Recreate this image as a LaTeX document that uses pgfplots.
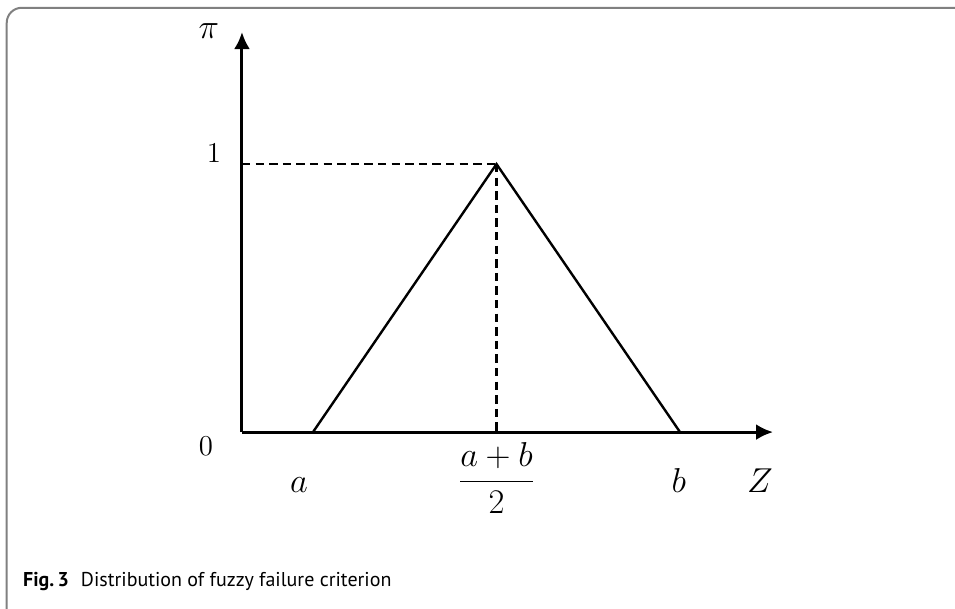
\documentclass[border=0pt]{standalone}
\usepackage{pgfplots}
\pgfplotsset{compat=1.18}
\usepackage{fontspec}
\newfontfamily\capfont{PT Sans}
\usetikzlibrary{arrows.meta}
\definecolor{framegray}{HTML}{808080}
\begin{document}
\begin{tikzpicture}
\begin{axis}[
  scale only axis,
  width=265.5pt, height=200pt,
  xmin=0.613, xmax=3.507, ymin=0, ymax=1.4925,
  axis lines=left,
  axis line style={line width=1.5pt, -{Latex[length=8.5pt,width=8pt]}},
  xtick=\empty, ytick=\empty,
  clip=false,
]
% frame
\draw[framegray, line width=1pt, rounded corners=7.5pt]
  (axis cs:4.6,1.583) -- (axis cs:-0.669,1.583) -- (axis cs:-0.669,-0.7);
% triangle
\addplot[black, line width=1.2pt, line join=miter] coordinates {(1,0) (2,1) (3,0)};
% dashed guides
\addplot[black, line width=1.2pt, dash pattern=on 4.2pt off 2.6pt] coordinates {(0.613,1) (2,1)};
\addplot[black, line width=1.2pt, dash pattern=on 4.2pt off 2.6pt] coordinates {(2,1) (2,0)};
% labels
\node[font=\fontsize{17}{20}\selectfont] at (axis cs:0.433,1.496) {$\pi$};
\node[font=\fontsize{14.5}{18}\selectfont] at (axis cs:0.460,1.041) {$1$};
\node[font=\fontsize{14.5}{18}\selectfont] at (axis cs:0.417,-0.052) {$0$};
\node[font=\fontsize{17}{20}\selectfont, anchor=base] at (axis cs:0.924,-0.224) {$a$};
\node[font=\fontsize{17}{20}\selectfont, anchor=base] at (axis cs:2.994,-0.224) {$b$};
\node[font=\fontsize{16}{20}\selectfont, anchor=base] at (axis cs:3.436,-0.224) {$Z$};
\node[font=\fontsize{16}{20}\selectfont] at (axis cs:2.0,-0.172) {$\displaystyle\frac{a+b}{2}$};
\node[font=\capfont\fontsize{10}{12}\selectfont, anchor=base west, inner sep=0pt] at (axis cs:-0.582,-0.577) {\textbf{Fig.\,3}\hspace{0.6em}Distribution of fuzzy failure criterion};
\coordinate (pA) at (axis cs:-0.7057,1.612);
\coordinate (pB) at (axis cs:4.4986,-0.6567);
\end{axis}
\pgfresetboundingbox
\path (pA) rectangle (pB);
\end{tikzpicture}
\end{document}
